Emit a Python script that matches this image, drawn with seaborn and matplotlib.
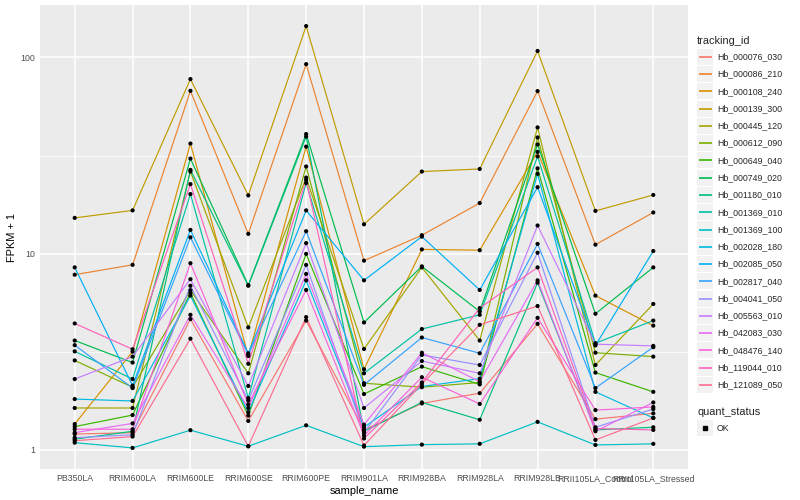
import numpy as np
import pandas as pd
import matplotlib
matplotlib.use("Agg")
import matplotlib.pyplot as plt
import seaborn as sns
from matplotlib.lines import Line2D
from matplotlib.patches import Rectangle
from matplotlib.ticker import FixedLocator, NullFormatter

samples = ["PB350LA", "RRIM600LA", "RRIM600LE", "RRIM600SE", "RRIM600PE",
           "RRIM901LA", "RRIM928BA", "RRIM928LA", "RRIM928LB",
           "RRII105LA_Control", "RRII105LA_Stressed"]

tracking_ids = ["Hb_000076_030", "Hb_000086_210", "Hb_000108_240", "Hb_000139_300",
                "Hb_000445_120", "Hb_000612_090", "Hb_000649_040", "Hb_000749_020",
                "Hb_001180_010", "Hb_001369_010", "Hb_001369_100", "Hb_002028_180",
                "Hb_002085_050", "Hb_002817_040", "Hb_004041_050", "Hb_005563_010",
                "Hb_042083_030", "Hb_048476_140", "Hb_119044_010", "Hb_121089_050"]

# FPKM + 1 per sample (order of `samples`)
fpkm_000076_030 = [1.20, 1.22, 4.63, 1.40, 4.55, 1.26, 1.72, 1.94, 4.38, 1.43, 1.53]
fpkm_000086_210 = [7.8, 8.76, 67.6, 12.6, 92.5, 9.2, 12.4, 18.1, 67.4, 11.1, 16.2]
fpkm_000108_240 = [1.35, 3.16, 36.4, 3.0, 35.1, 2.57, 10.5, 10.4, 33.0, 6.1, 4.29]
fpkm_000139_300 = [15.2, 16.6, 77.6, 19.8, 144.6, 14.1, 26.2, 27.0, 108.0, 16.5, 19.9]
fpkm_000445_120 = [1.63, 1.63, 26.2, 4.2, 24.4, 3.26, 8.5, 3.6, 44.0, 2.7, 5.53]
fpkm_000612_090 = [2.85, 2.08, 6.5, 2.45, 27.8, 2.18, 2.08, 2.2, 39.1, 3.12, 2.98]
fpkm_000649_040 = [1.31, 1.5, 6.3, 1.49, 9.96, 1.92, 2.65, 2.15, 27.2, 2.47, 1.97]
fpkm_000749_020 = [3.6, 2.78, 30.5, 6.9, 40.7, 4.45, 8.6, 5.06, 36.0, 4.93, 8.5]
fpkm_001180_010 = [1.13, 1.24, 26.7, 6.85, 39.5, 1.24, 1.74, 1.42, 7.1, 1.26, 1.30]
fpkm_001369_010 = [3.17, 2.29, 20.1, 1.83, 22.9, 2.45, 4.12, 4.87, 31.3, 3.49, 4.55]
fpkm_001369_100 = [1.085, 1.02, 1.256, 1.04, 1.33, 1.035, 1.06, 1.07, 1.385, 1.056, 1.07]
fpkm_002028_180 = [1.81, 1.77, 6.1, 1.55, 7.3, 1.3, 2.1, 2.3, 25.5, 1.97, 1.45]
fpkm_002085_050 = [8.5, 2.12, 13.2, 3.1, 16.6, 7.3, 12.2, 6.52, 21.8, 3.40, 10.3]
fpkm_002817_040 = [3.41, 2.06, 12.1, 3.05, 13.0, 2.14, 3.73, 3.1, 11.2, 2.06, 3.33]
fpkm_004041_050 = [1.15, 1.19, 6.85, 1.78, 8.75, 1.22, 3.04, 2.7, 10.1, 1.30, 1.61]
fpkm_005563_010 = [2.29, 2.98, 7.4, 2.11, 11.3, 1.63, 2.83, 2.45, 13.9, 3.45, 3.38]
fpkm_042083_030 = [1.22, 1.36, 4.87, 1.63, 7.87, 1.34, 3.12, 2.22, 7.3, 1.24, 1.74]
fpkm_048476_140 = [1.27, 1.27, 8.93, 1.7, 6.52, 1.18, 2.34, 1.71, 4.7, 1.59, 1.65]
fpkm_119044_010 = [4.4, 3.25, 22.6, 2.74, 23.7, 1.14, 2.2, 5.27, 8.5, 1.28, 1.26]
fpkm_121089_050 = [1.11, 1.165, 3.68, 1.04, 4.74, 1.05, 2.16, 4.33, 5.4, 1.12, 1.45]

series_values = [fpkm_000076_030, fpkm_000086_210, fpkm_000108_240, fpkm_000139_300,
                 fpkm_000445_120, fpkm_000612_090, fpkm_000649_040, fpkm_000749_020,
                 fpkm_001180_010, fpkm_001369_010, fpkm_001369_100, fpkm_002028_180,
                 fpkm_002085_050, fpkm_002817_040, fpkm_004041_050, fpkm_005563_010,
                 fpkm_042083_030, fpkm_048476_140, fpkm_119044_010, fpkm_121089_050]

palette = ["#F8766D", "#EA8331", "#D89000", "#C09B00", "#A3A500", "#7CAE00",
           "#39B600", "#00BB4E", "#00BF7D", "#00C1A3", "#00BFC4", "#00BAE0",
           "#00B0F6", "#35A2FF", "#9590FF", "#C77CFF", "#E76BF3", "#FA62DB",
           "#FF62BC", "#FF6C91"]

rows = []
for tid, vals in zip(tracking_ids, series_values):
    for s, v in zip(samples, vals):
        rows.append({"tracking_id": tid, "sample_name": s, "fpkm": v, "quant_status": "OK"})
df = pd.DataFrame(rows)

sns.set_theme(style="white")
plt.rcParams["font.family"] = ["Liberation Sans", "DejaVu Sans"]

W, H = 800, 500
fig = plt.figure(figsize=(8, 5), dpi=100)
px = 72 / 100  # one R pixel (72 dpi) in points at 100 dpi

panel_l, panel_r, panel_t, panel_b = 40, 688, 5, 469
ax = fig.add_axes([panel_l / W, 1 - panel_b / H, (panel_r - panel_l) / W, (panel_b - panel_t) / H])
ax.set_facecolor("#EBEBEB")
ax.set_yscale("log")

sns.lineplot(data=df, x="sample_name", y="fpkm", hue="tracking_id", hue_order=tracking_ids,
             palette=palette, sort=False, estimator=None, units="tracking_id",
             linewidth=0.85, legend=False, ax=ax, zorder=2)
sns.scatterplot(data=df, x="sample_name", y="fpkm", color="black", s=9, marker="o",
                edgecolor="none", legend=False, ax=ax, zorder=3)

lo = np.log10(df["fpkm"].min())
hi = np.log10(df["fpkm"].max())
pad = 0.05 * (hi - lo)
ax.set_ylim(10 ** (lo - pad), 10 ** (hi + pad))
ax.set_xlim(-0.6, len(samples) - 1 + 0.6)

ax.set_yticks([1, 10, 100])
ax.set_yticklabels(["1", "10", "100"])
ax.yaxis.set_minor_locator(FixedLocator([10 ** 0.5, 10 ** 1.5]))
ax.yaxis.set_minor_formatter(NullFormatter())
ax.set_xticks(range(len(samples)))
ax.set_xticklabels(samples)

ax.grid(which="major", color="white", linewidth=1.1)
ax.grid(which="minor", axis="y", color="white", linewidth=0.55)
ax.set_axisbelow(True)
for sp in ax.spines.values():
    sp.set_visible(False)

ax.tick_params(axis="both", which="major", length=2.75 * px, width=0.75, color="#333333",
               labelsize=8.8 * px, labelcolor="#4D4D4D", pad=2.2 * px)
ax.tick_params(axis="y", which="minor", length=0)
ax.set_xlabel("sample_name", fontsize=11 * px, color="black", labelpad=3 * px)
ax.set_ylabel("FPKM + 1", fontsize=11 * px, color="black", labelpad=3 * px)

# ggplot-style legends drawn in pixel space
def fx(x):
    return x / W

def fy(y):
    return 1 - y / H

key = 17.28
lx = 697
fig.text(fx(lx), fy(41), "tracking_id", fontsize=11 * px, ha="left", va="center")
y0 = 56.7
for i, (tid, col) in enumerate(zip(tracking_ids, palette)):
    yc = y0 + i * key
    fig.add_artist(Rectangle((fx(lx), fy(yc + key / 2 - 0.6)), fx(key - 1.2), (key - 1.2) / H,
                             transform=fig.transFigure, facecolor="#F2F2F2", edgecolor="none"))
    fig.add_artist(Line2D([fx(lx + 1.5), fx(lx + key - 2.7)], [fy(yc), fy(yc)],
                          transform=fig.transFigure, color=col, linewidth=1.2,
                          solid_capstyle="butt"))
    fig.text(fx(lx + 20), fy(yc), tid, fontsize=8.8 * px, ha="left", va="center")

fig.text(fx(lx), fy(411.7), "quant_status", fontsize=11 * px, ha="left", va="center")
yc = 428.3
fig.add_artist(Rectangle((fx(lx), fy(yc + key / 2 - 0.6)), fx(key - 1.2), (key - 1.2) / H,
                         transform=fig.transFigure, facecolor="#F2F2F2", edgecolor="none"))
fig.add_artist(Line2D([fx(lx + key / 2 - 0.6)], [fy(yc)], transform=fig.transFigure,
                      marker="s", markersize=2.6, color="black", linestyle="none"))
fig.text(fx(lx + 20), fy(yc), "OK", fontsize=8.8 * px, ha="left", va="center")

fig.savefig("out.png", dpi=100, facecolor="white")
